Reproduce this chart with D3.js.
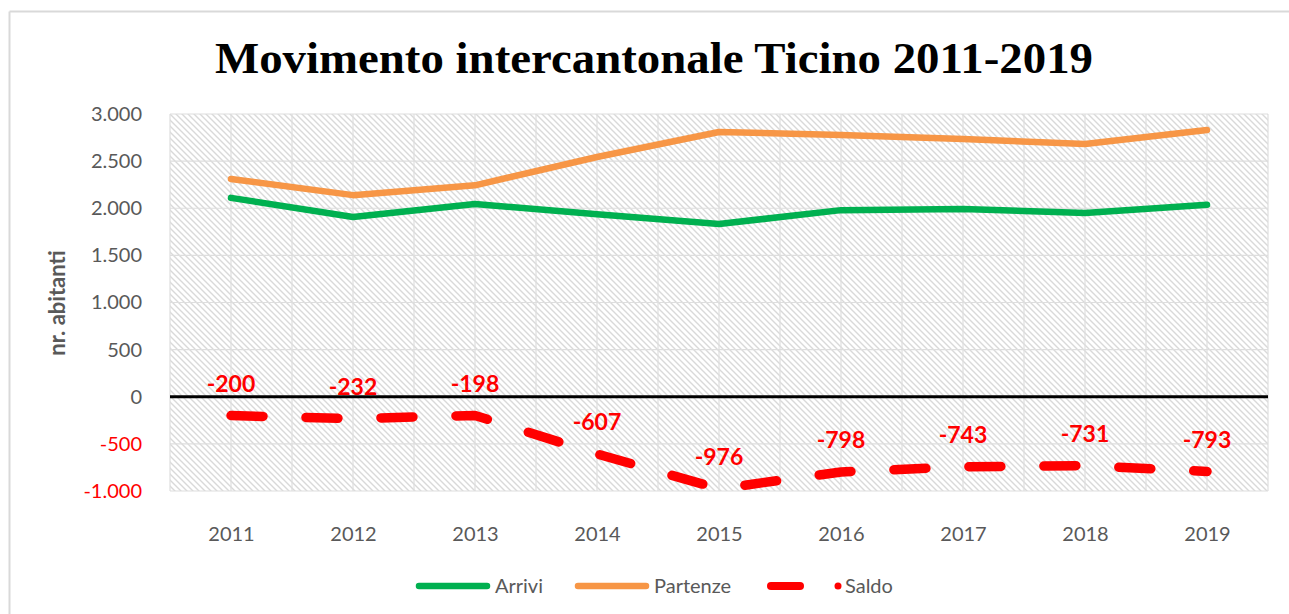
<!DOCTYPE html>
<html>
<head>
<meta charset="utf-8">
<script src="https://cdn.jsdelivr.net/npm/d3@7"></script>
<style>
  html, body { margin: 0; padding: 0; background: #fff; overflow: hidden; }
  svg { display: block; }
</style>
</head>
<body>
<svg id="mainsvg" width="1289" height="614"></svg>
<script>
// dati
const years = ['2011', '2012', '2013', '2014', '2015', '2016', '2017', '2018', '2019'];
const arrivi = [2110, 1907, 2045, 1937, 1833, 1980, 1992, 1950, 2037];
const partenze = [2310, 2139, 2243, 2544, 2809, 2778, 2735, 2681, 2830];
const saldo = [-200, -232, -198, -607, -976, -798, -743, -731, -793];
const yTicks = [-1000, -500, 0, 500, 1000, 1500, 2000, 2500, 3000];
const seriesNames = ['Arrivi', 'Partenze', 'Saldo'];

const fontSans = 'Lato, "Open Sans", sans-serif';
const grey = '#595959';

const svg = d3.select('#mainsvg');
const width = +svg.attr('width');
const height = +svg.attr('height');
const margin = { top: 114, right: 21, bottom: 123, left: 170 };
const innerWidth = width - margin.left - margin.right;
const innerHeight = height - margin.top - margin.bottom;

const itLocale = d3.formatLocale({ decimal: ',', thousands: '.', grouping: [3], currency: ['', ''], minus: '-' });
const fmt = itLocale.format(',d');

// cornice esterna (solo bordo sinistro e superiore visibili)
svg.append('line')
  .attr('x1', 9.5).attr('x2', width).attr('y1', 11.5).attr('y2', 11.5)
  .attr('stroke', '#d9d9d9').attr('stroke-width', 2);
svg.append('line')
  .attr('x1', 9.5).attr('x2', 9.5).attr('y1', 11.5).attr('y2', height)
  .attr('stroke', '#d9d9d9').attr('stroke-width', 2);

// tratteggio di sfondo
const defs = svg.append('defs');
defs.append('pattern')
  .attr('id', 'hatch')
  .attr('patternUnits', 'userSpaceOnUse')
  .attr('width', 6).attr('height', 6)
  .append('path')
  .attr('d', 'M0,0 L6,6 M-2,4 L2,8 M4,-2 L8,2')
  .attr('stroke', '#d9d9d9')
  .attr('stroke-width', 1.4);

svg.append('text')
  .text('Movimento intercantonale Ticino 2011-2019')
  .attr('x', 654).attr('y', 73)
  .attr('text-anchor', 'middle')
  .attr('font-family', '"Liberation Serif", "DejaVu Serif", serif')
  .attr('font-weight', 'bold')
  .attr('font-size', 44)
  .attr('textLength', 878)
  .attr('lengthAdjust', 'spacingAndGlyphs')
  .attr('fill', '#000');

const xBand = d3.scaleBand().domain(years).range([0, innerWidth]);
const xScale = d3.scalePoint().domain(years).range([0, innerWidth]).padding(0.5);
const yScale = d3.scaleLinear().domain([-1000, 3000]).range([innerHeight, 0]);

const g = svg.append('g')
  .attr('id', 'maingroup')
  .attr('transform', `translate(${margin.left}, ${margin.top})`);

g.append('rect')
  .attr('width', innerWidth).attr('height', innerHeight)
  .attr('fill', 'url(#hatch)');

// griglia
const vLines = [];
years.forEach(y => {
  vLines.push(xBand(y));
  vLines.push(xBand(y) + xBand.bandwidth() / 2);
});
vLines.push(innerWidth);
g.append('g').selectAll('line').data(vLines).join('line')
  .attr('x1', d => d).attr('x2', d => d)
  .attr('y1', 0).attr('y2', innerHeight)
  .attr('stroke', '#dedede').attr('stroke-width', 1.2);
g.append('g').selectAll('line').data(yTicks.filter(d => d !== 0)).join('line')
  .attr('x1', 0).attr('x2', innerWidth)
  .attr('y1', d => yScale(d)).attr('y2', d => yScale(d))
  .attr('stroke', '#dedede').attr('stroke-width', 1.2);

// assi
const yAxis = d3.axisLeft(yScale).tickValues(yTicks).tickFormat(fmt).tickSize(0).tickPadding(28);
const yG = g.append('g').call(yAxis)
  .attr('font-family', fontSans).attr('font-size', 20);
yG.select('.domain').remove();
yG.selectAll('text')
  .attr('fill', d => d < 0 ? '#ff0000' : grey);

const xAxis = d3.axisBottom(xScale).tickSize(0).tickPadding(36);
const xG = g.append('g').attr('transform', `translate(0, ${innerHeight})`).call(xAxis)
  .attr('font-family', fontSans).attr('font-size', 20);
xG.select('.domain').remove();
xG.selectAll('text').attr('fill', grey);

g.append('line')
  .attr('x1', 0).attr('x2', innerWidth)
  .attr('y1', yScale(0)).attr('y2', yScale(0))
  .attr('stroke', '#000').attr('stroke-width', 3);

svg.append('text').text('nr. abitanti')
  .attr('transform', `translate(65, 303) rotate(-90)`)
  .attr('text-anchor', 'middle')
  .attr('font-family', fontSans).attr('font-weight', 'bold').attr('font-size', 22)
  .attr('fill', grey);

// linee
const line = d3.line()
  .x((d, i) => xScale(years[i]))
  .y(d => yScale(d));

g.append('path').datum(arrivi)
  .attr('d', line).attr('fill', 'none')
  .attr('stroke', '#00b050').attr('stroke-width', 6.5)
  .attr('stroke-linecap', 'round').attr('stroke-linejoin', 'round');
g.append('path').datum(partenze)
  .attr('d', line).attr('fill', 'none')
  .attr('stroke', '#f79646').attr('stroke-width', 6.5)
  .attr('stroke-linecap', 'round').attr('stroke-linejoin', 'round');
g.append('path').datum(saldo)
  .attr('d', line).attr('fill', 'none')
  .attr('stroke', '#ff0000').attr('stroke-width', 9.5)
  .attr('stroke-dasharray', '32,43')
  .attr('stroke-linecap', 'round').attr('stroke-linejoin', 'round');

g.append('g').selectAll('text').data(saldo).join('text')
  .text(d => fmt(d))
  .attr('x', (d, i) => xScale(years[i]))
  .attr('y', d => yScale(d) - 23.5)
  .attr('text-anchor', 'middle')
  .attr('font-family', fontSans).attr('font-weight', 'bold').attr('font-size', 23)
  .attr('fill', '#ff0000');

// legenda
const legY = 586;
const leg = svg.append('g');
leg.append('line').attr('x1', 419).attr('x2', 487).attr('y1', legY).attr('y2', legY)
  .attr('stroke', '#00b050').attr('stroke-width', 6.5).attr('stroke-linecap', 'round');
leg.append('line').attr('x1', 578).attr('x2', 646).attr('y1', legY).attr('y2', legY)
  .attr('stroke', '#f79646').attr('stroke-width', 6.5).attr('stroke-linecap', 'round');
leg.append('line').attr('x1', 771).attr('x2', 800).attr('y1', legY).attr('y2', legY)
  .attr('stroke', '#ff0000').attr('stroke-width', 8).attr('stroke-linecap', 'round');
leg.append('circle').attr('cx', 838).attr('cy', legY).attr('r', 3.5).attr('fill', '#ff0000');
const legX = [495, 654, 845];
leg.selectAll('text').data(seriesNames).join('text')
  .text(d => d)
  .attr('x', (d, i) => legX[i]).attr('y', legY + 7)
  .attr('font-family', fontSans).attr('font-size', 20)
  .attr('fill', grey);
</script>
</body>
</html>
